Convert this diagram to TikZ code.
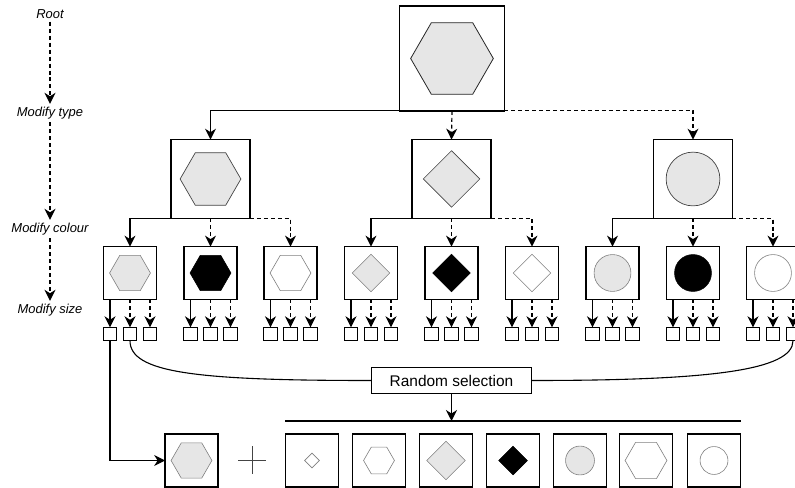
\documentclass[tikz,border=0pt]{standalone}
\usepackage{fontspec}
\setmainfont{Liberation Sans}
\usetikzlibrary{shapes.geometric,arrows.meta}
\definecolor{lg}{HTML}{E6E6E6}
\definecolor{dk}{HTML}{444444}
\definecolor{gr}{HTML}{7F7F7F}
\begin{document}
\begin{tikzpicture}[x=1bp,y=-1bp,
  box/.style={draw, line width=1.6pt, minimum size=#1, inner sep=0, outer sep=0},
  sbox/.style={draw, line width=1.2pt, minimum size=13.5, inner sep=0, outer sep=0},
  hexa/.style={regular polygon, regular polygon sides=6, minimum size=#1, inner sep=0, draw},
  dia/.style={diamond, aspect=1, minimum width=#1, minimum height=#1, inner sep=0, draw},
  circ/.style={circle, minimum size=#1, inner sep=0, draw},
  arr/.style={-{Stealth[length=11pt,width=11pt,inset=3.5pt]}, line width=1.2pt},
  dsh/.style={dash pattern=on 4pt off 3pt},
  lbl/.style={font=\fontsize{13}{15}\selectfont\itshape, inner sep=3pt}
]
\useasboundingbox (0,0) rectangle (795,488);

% level labels
\node[lbl] (lroot) at (50,14) {Root};
\node[lbl] (ltype) at (50,113) {Modify type};
\node[lbl] (lcol) at (50,229) {Modify colour};
\node[lbl] (lsize) at (50,310) {Modify size};
\draw[arr,dsh] (lroot.south) -- (ltype.north);
\draw[arr,dsh] (ltype.south) -- (lcol.north);
\draw[arr,dsh] (lcol.south) -- (lsize.north);

% root
\node[box=105] (root) at (452,58.5) {};
\node[hexa=83, fill=lg, draw=black!85, line width=0.8pt] (rh) at (root) {};

% level 2
\node[box=79] (t1) at (210.5,179) {};
\node[box=79] (t2) at (451.5,179) {};
\node[box=79] (t3) at (693,179) {};
\node[hexa=61, fill=lg, draw=dk, line width=0.7pt] (t1s) at (t1) {};
\node[dia=57, fill=lg, draw=dk, line width=0.7pt] (t2s) at (t2) {};
\node[circ=54, fill=lg, draw=dk, line width=0.7pt] (t3s) at (t3) {};

\draw[arr] (root.south west) -| (t1.north);
\draw[arr,dsh] (root.south) -- (t2.north);
\draw[arr,dsh] (root.south east) -| (t3.north);

% level 3
\foreach \x [count=\i] in {130,210.5,290.5,371,451.5,532,612.5,693,773}{
  \node[box=53] (m\i) at (\x,273) {};
  \node[sbox] (sa\i) at (\x-20,334) {};
  \node[sbox] (sb\i) at (\x,334) {};
  \node[sbox] (sc\i) at (\x+20,334) {};
  \draw[arr] (m\i.south -| sa\i.north) -- (sa\i.north);
  \draw[arr,dsh] (m\i.south -| sb\i.north) -- (sb\i.north);
  \draw[arr,dsh] (m\i.south -| sc\i.north) -- (sc\i.north);
}
\node[hexa=41, fill=lg, draw=gr, line width=0.6pt] (m1s) at (m1) {};
\node[hexa=41, fill=black, draw=black, line width=0.6pt] (m2s) at (m2) {};
\node[hexa=41, fill=white, draw=gr, line width=0.6pt] (m3s) at (m3) {};
\node[dia=38, fill=lg, draw=gr, line width=0.6pt] (m4s) at (m4) {};
\node[dia=38, fill=black, draw=black, line width=0.6pt] (m5s) at (m5) {};
\node[dia=38, fill=white, draw=gr, line width=0.6pt] (m6s) at (m6) {};
\node[circ=37, fill=lg, draw=gr, line width=0.6pt] (m7s) at (m7) {};
\node[circ=37, fill=black, draw=black, line width=0.6pt] (m8s) at (m8) {};
\node[circ=37, fill=white, draw=gr, line width=0.6pt] (m9s) at (m9) {};

\draw[arr] (t1.south west) -| (m1.north);
\draw[arr,dsh] (t1.south) -- (m2.north);
\draw[arr,dsh] (t1.south east) -| (m3.north);
\draw[arr] (t2.south west) -| (m4.north);
\draw[arr,dsh] (t2.south) -- (m5.north);
\draw[arr,dsh] (t2.south east) -| (m6.north);
\draw[arr] (t3.south west) -| (m7.north);
\draw[arr,dsh] (t3.south) -- (m8.north);
\draw[arr,dsh] (t3.south east) -| (m9.north);

% random selection
\node[draw, line width=1pt, minimum width=161, minimum height=27, inner sep=0,
      font=\fontsize{15.5}{18}\selectfont] (rs) at (451.5,380.5) {Random selection};
\draw[line width=1.1pt] (sb1.south) .. controls +(0,32) and +(-175,0) .. (rs.west);
\draw[line width=1.1pt] (sc9.south) .. controls +(0,30) and +(175,0) .. (rs.east);
\coordinate (selL) at (285,421);
\coordinate (selR) at (741,421);
\draw[line width=1.1pt] (selL) -- (selR);
\draw[arr] (rs.south) -- (rs.south |- selL);

% bottom row
\node[box=53, line width=1.3pt] (res) at (191.5,460.5) {};
\node[hexa=41, fill=lg, draw=gr, line width=0.6pt] (ress) at (res) {};
\draw[arr] (sa1.south) |- (res.west);

\node[inner sep=0, minimum size=27] (plus) at (252,460) {};
\draw[line width=0.9pt, draw=dk] (plus.west) -- (plus.east) (plus.north) -- (plus.south);

\foreach \x [count=\i] in {312,379,446,513,580,646,714}{
  \node[box=53, line width=1.3pt] (b\i) at (\x,460.5) {};
}
\node[dia=15, fill=white, draw=gr, line width=0.6pt] (b1s) at (b1) {};
\node[hexa=31, fill=white, draw=gr, line width=0.6pt] (b2s) at (b2) {};
\node[dia=39, fill=lg, draw=gr, line width=0.6pt] (b3s) at (b3) {};
\node[dia=29, fill=black, draw=black, line width=0.6pt] (b4s) at (b4) {};
\node[circ=29, fill=lg, draw=gr, line width=0.6pt] (b5s) at (b5) {};
\node[hexa=42, fill=white, draw=gr, line width=0.6pt] (b6s) at (b6) {};
\node[circ=28, fill=white, draw=gr, line width=0.6pt] (b7s) at (b7) {};
\end{tikzpicture}
\end{document}
